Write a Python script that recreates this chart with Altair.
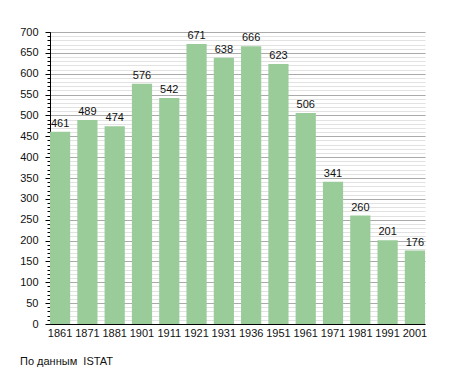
import altair as alt
import pandas as pd

years = ["1861", "1871", "1881", "1901", "1911", "1921", "1931", "1936", "1951", "1961", "1971", "1981", "1991", "2001"]
population = [461, 489, 474, 576, 542, 671, 638, 666, 623, 506, 341, 260, 201, 176]
major_ticks = [0, 50, 100, 150, 200, 250, 300, 350, 400, 450, 500, 550, 600, 650, 700]
minor_ticks = list(range(0, 701, 10))
caption = ["По данным\u00a0 ISTAT"]

df = pd.DataFrame({"year": years, "pop": population})
cap_df = pd.DataFrame({"t": caption})

FONT = "Liberation Sans"
yscale = alt.Scale(domain=[0, 700], nice=False, zero=True)
xenc = alt.X("year:N", sort=years, title=None,
             scale=alt.Scale(paddingInner=0.26, paddingOuter=0),
             axis=alt.Axis(labelAngle=0, ticks=False, domainColor="black", domainWidth=1,
                           labelFont=FONT, labelFontSize=11, labelColor="#111", labelPadding=3))

minor = alt.Chart(df).mark_bar(opacity=0).encode(
    x=xenc,
    y=alt.Y("pop:Q", scale=yscale, title=None,
            axis=alt.Axis(orient="left", values=minor_ticks, labels=False, domain=False,
                          grid=True, gridColor="#e2e2e2", gridWidth=1,
                          ticks=True, tickSize=3, tickColor="black")),
)

bars = alt.Chart(df).mark_bar(color="#99cc99").encode(
    x=xenc,
    y=alt.Y("pop:Q", scale=yscale, title=None,
            axis=alt.Axis(orient="left", values=major_ticks, grid=True, gridColor="#aaaaaa",
                          gridWidth=1, tickSize=5, tickColor="black", domainColor="black",
                          labelFont=FONT, labelFontSize=11, labelColor="#111", labelPadding=7)),
)

labels = alt.Chart(df).mark_text(baseline="bottom", dy=-3, font=FONT, fontSize=11, color="#111").encode(
    x=xenc,
    y=alt.Y("pop:Q", scale=yscale, axis=None),
    text="pop:Q",
)

cap = alt.Chart(cap_df).mark_text(align="left", baseline="middle", font=FONT, fontSize=11,
                                   color="#111").encode(
    x=alt.value(-30), y=alt.value(330), text="t:N"
)

chart = alt.layer(minor, bars, labels, cap).resolve_axis(y="independent").properties(
    width=375, height=292,
    autosize=alt.AutoSizeParams(type="none"),
    padding={"left": 42, "top": 24, "right": 22, "bottom": 49},
).configure_view(stroke=None)

chart.save("out.html", embed_options={"renderer": "svg", "actions": False})
